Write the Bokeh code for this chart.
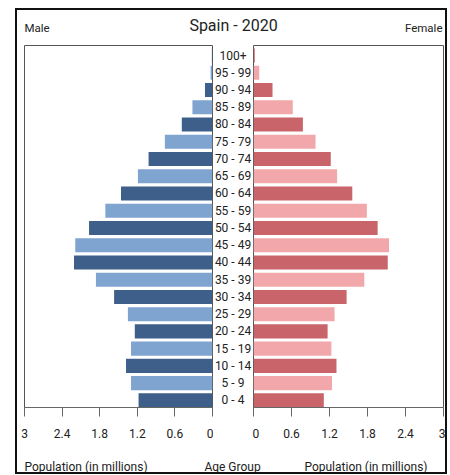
from bokeh.plotting import figure
from bokeh.models import Range1d, FixedTicker, Label, Column, Row
from bokeh.core.properties import value
from bokeh.embed import file_html
from bokeh.resources import INLINE

title = "Spain - 2020"
ages = ["0 - 4", "5 - 9", "10 - 14", "15 - 19", "20 - 24", "25 - 29", "30 - 34",
        "35 - 39", "40 - 44", "45 - 49", "50 - 54", "55 - 59", "60 - 64", "65 - 69",
        "70 - 74", "75 - 79", "80 - 84", "85 - 89", "90 - 94", "95 - 99", "100+"]
male = [1.18, 1.30, 1.38, 1.30, 1.24, 1.35, 1.57, 1.86, 2.21, 2.19, 1.97, 1.71,
        1.46, 1.19, 1.02, 0.76, 0.49, 0.32, 0.12, 0.03, 0.01]
female = [1.11, 1.24, 1.31, 1.23, 1.17, 1.28, 1.47, 1.75, 2.12, 2.14, 1.96, 1.79,
          1.56, 1.32, 1.22, 0.98, 0.78, 0.62, 0.30, 0.09, 0.02]
ticks = [0, 0.6, 1.2, 1.8, 2.4, 3]
tick_labels = ["0", "0.6", "1.2", "1.8", "2.4", "3"]

FONT = "Roboto"
TXT = "#222222"
male_cols = ["#3e5f8a", "#7ea4cf"]
female_cols = ["#c8646a", "#f2a8ab"]

pos = list(range(len(ages)))
mc = [male_cols[i % 2] for i in pos]
fc = [female_cols[i % 2] for i in pos]

y_rng = (-0.41, 20.58)
PH = 402       # plot row height
BOT = 40       # space below frames


def style_axis(p):
    ax = p.xaxis[0]
    ax.ticker = FixedTicker(ticks=ticks)
    ax.major_label_overrides = {t: l for t, l in zip(ticks, tick_labels)}
    ax.major_label_text_font = FONT
    ax.major_label_text_font_size = "12px"
    ax.major_label_text_color = TXT
    ax.major_tick_out = 9
    ax.major_tick_in = 0
    ax.minor_tick_line_color = None
    ax.major_label_standoff = 12
    ax.axis_line_color = "#666666"
    ax.major_tick_line_color = "#666666"
    p.grid.visible = False
    p.outline_line_color = "#555555"
    p.outline_line_width = 1


def label(p, x, y, text, size, align):
    p.add_layout(Label(x=x, y=y, text=text, text_font=FONT, text_font_size=size,
                       text_color=TXT, text_baseline="middle", text_align=align))


def blank(w, h):
    f = figure(width=w, height=h, x_range=Range1d(0, w), y_range=Range1d(0, h),
               output_backend="svg", toolbar_location=None,
               x_axis_location=None, y_axis_location=None, min_border=0)
    f.outline_line_color = None
    f.grid.visible = False
    return f


header = blank(428, 35)
label(header, 7, 18, "Male", "11.5px", "left")
label(header, 216, 20, title, "16px", "center")
label(header, 425, 18, "Female", "11.5px", "right")

left = figure(width=196, height=PH, x_range=Range1d(3, 0), y_range=Range1d(*y_rng),
              output_backend="svg", toolbar_location=None, y_axis_location=None,
              min_border_left=7, min_border_right=1, min_border_top=0, min_border_bottom=BOT)
left.hbar(y=pos, left=0, right=male, height=0.82, fill_color=mc, line_color=None)
style_axis(left)

mid = figure(width=39, height=PH, x_range=Range1d(-1, 1), y_range=Range1d(*y_rng),
             output_backend="svg", toolbar_location=None, x_axis_location=None,
             y_axis_location=None, min_border=0, min_border_bottom=BOT)
mid.outline_line_color = None
mid.grid.visible = False
mid.text(x=0, y=pos, text=ages, text_align="center", text_baseline="middle",
         text_font=value(FONT), text_font_size="12px", text_color=TXT)

right = figure(width=193, height=PH, x_range=Range1d(0, 3), y_range=Range1d(*y_rng),
               output_backend="svg", toolbar_location=None, y_axis_location=None,
               min_border_left=1, min_border_right=2, min_border_top=0, min_border_bottom=BOT)
right.hbar(y=pos, left=0, right=female, height=0.82, fill_color=fc, line_color=None)
style_axis(right)

footer = blank(428, 25)
label(footer, 7, 6, "Population (in millions)", "12px", "left")
label(footer, 215, 6, "Age Group", "12px", "center")
label(footer, 410, 6, "Population (in millions)", "12px", "right")

layout = Column(children=[header, Row(children=[left, mid, right]), footer],
                styles={"border": "2px solid #111111"}, margin=(8, 0, 0, 15))

open("out.html", "w").write(file_html(layout, INLINE))
